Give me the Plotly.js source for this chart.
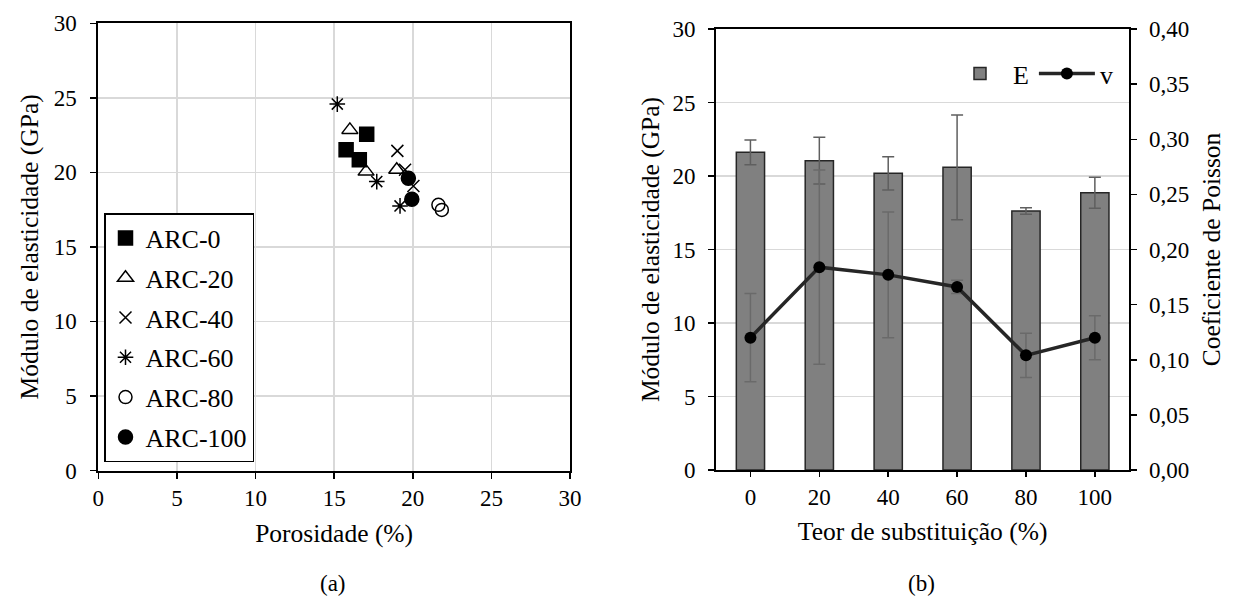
<!DOCTYPE html>
<html>
<head>
<meta charset="utf-8">
<script src="https://cdn.plot.ly/plotly-3.0.1.min.js"></script>
<style>html,body{margin:0;padding:0;background:#fff;}#chart{width:1238px;height:608px;}</style>
</head>
<body>
<div id="chart"></div>
<script>
// ---- Data (a): porosity vs modulus ----
const arc0_x = [17.07, 15.76, 16.60];
const arc0_y = [22.56, 21.51, 20.84];
const arc20_x = [16.00, 17.03, 18.98];
const arc20_y = [22.85, 20.05, 20.17];
const arc40_x = [19.02, 19.51, 20.04];
const arc40_y = [21.44, 20.17, 19.09];
const arc60_x = [15.20, 17.71, 19.19];
const arc60_y = [24.58, 19.38, 17.75];
const arc80_x = [21.63, 21.85];
const arc80_y = [17.82, 17.48];
const arc100_x = [19.72, 19.94];
const arc100_y = [19.61, 18.20];

// ---- Data (b): modulus and Poisson ----
const categories = ['0', '20', '40', '60', '80', '100'];
const E_values = [21.61, 21.04, 20.18, 20.59, 17.62, 18.86];
const E_errors = [0.84, 1.59, 1.13, 3.56, 0.22, 1.05];
const v_values = [0.120, 0.184, 0.177, 0.166, 0.104, 0.120];
const v_errors = [0.040, 0.088, 0.057, 0.006, 0.020, 0.020];

const FONT = 'Liberation Serif, Times New Roman, serif';
const TICK = 23, TITLE = 25.5, LEG = 26;
const mk = (sym, size, fill) => ({symbol: sym, size: size, color: fill, line: {color: '#000', width: 1.5}});

const traces = [
  {x: arc0_x, y: arc0_y, name: 'ARC-0', type: 'scatter', mode: 'markers', marker: mk('square', 14, '#000'), legendgroup: 'g0'},
  {x: arc20_x, y: arc20_y, name: 'ARC-20', type: 'scatter', mode: 'markers', marker: mk('triangle-up-open', 14, '#000'), legendgroup: 'g1'},
  {x: arc40_x, y: arc40_y, name: 'ARC-40', type: 'scatter', mode: 'markers', marker: mk('x-thin-open', 12, '#000'), legendgroup: 'g2'},
  {x: arc60_x, y: arc60_y, name: 'ARC-60', type: 'scatter', mode: 'markers', marker: mk('asterisk-open', 13, '#000'), legendgroup: 'g3'},
  {x: arc80_x, y: arc80_y, name: 'ARC-80', type: 'scatter', mode: 'markers', marker: mk('circle-open', 13, '#000'), legendgroup: 'g4'},
  {x: arc100_x, y: arc100_y, name: 'ARC-100', type: 'scatter', mode: 'markers', marker: mk('circle', 14, '#000'), legendgroup: 'g5'},
  {x: categories, y: E_values, name: 'E', type: 'bar', xaxis: 'x2', yaxis: 'y2', legend: 'legend2',
   marker: {color: '#808080', line: {color: '#262626', width: 1.5}},
   error_y: {type: 'data', array: E_errors, visible: true, color: '#5f5f5f', thickness: 1.5, width: 6}},
  {x: categories, y: v_values, name: 'v', type: 'scatter', mode: 'lines+markers', xaxis: 'x2', yaxis: 'y3', legend: 'legend2',
   line: {color: '#262626', width: 3.5}, marker: {color: '#000', size: 12},
   error_y: {type: 'data', array: v_errors, visible: true, color: '#6a6a6a', thickness: 1.5, width: 6}}
];

const W = 1238, H = 608;
const px = v => v / W, py = v => 1 - v / H;
const common = {
  showline: true, linecolor: '#000', linewidth: 2, ticks: 'outside', ticklen: 6, tickwidth: 1.5, tickcolor: '#000',
  zeroline: false, tickfont: {family: FONT, size: TICK, color: '#000'}
};

const layout = {
  width: W, height: H,
  margin: {l: 0, r: 0, t: 0, b: 0},
  paper_bgcolor: '#fff', plot_bgcolor: '#fff',
  font: {family: FONT, size: TICK, color: '#000'},
  separators: ',.',
  bargap: 0.59,
  xaxis: Object.assign({}, common, {
    domain: [px(98.3), px(570)], range: [0, 30], dtick: 5, tick0: 0, anchor: 'y', mirror: true,
    showgrid: true, gridcolor: '#d9d9d9', gridwidth: 1.5,
    title: {text: 'Porosidade (%)', font: {family: FONT, size: TITLE}, standoff: 14}
  }),
  yaxis: Object.assign({}, common, {
    domain: [py(470.5), py(23.3)], range: [0, 30], dtick: 5, tick0: 0, anchor: 'x', mirror: true,
    showgrid: true, gridcolor: '#d9d9d9', gridwidth: 1.5, ticklabelstandoff: 9,
    title: {text: 'Módulo de elasticidade (GPa)', font: {family: FONT, size: TITLE}, standoff: 8}
  }),
  xaxis2: Object.assign({}, common, {
    domain: [px(716), px(1129.3)], type: 'category', anchor: 'y2', mirror: true, ticklen: 5,
    showgrid: false,
    title: {text: 'Teor de substituição (%)', font: {family: FONT, size: TITLE}, standoff: 14}
  }),
  yaxis2: Object.assign({}, common, {
    domain: [py(470), py(29)], range: [0, 30], dtick: 5, tick0: 0, anchor: 'x2',
    showgrid: true, gridcolor: '#d9d9d9', gridwidth: 1.5, ticklabelstandoff: 8,
    title: {text: 'Módulo de elasticidade (GPa)', font: {family: FONT, size: TITLE}, standoff: 5}
  }),
  yaxis3: Object.assign({}, common, {
    overlaying: 'y2', side: 'right', anchor: 'x2', range: [0, 0.4], dtick: 0.05, tick0: 0, tickformat: '.2f',
    showgrid: false, ticklabelstandoff: 7,
    title: {text: 'Coeficiente de Poisson', font: {family: FONT, size: TITLE}, standoff: 14}
  }),
  legend: {
    x: px(104), y: py(213), xanchor: 'left', yanchor: 'top',
    bgcolor: '#fff', bordercolor: '#000', borderwidth: 1.5,
    font: {family: FONT, size: LEG, color: '#000'},
    traceorder: 'grouped', tracegroupgap: 3, itemwidth: 30
  },
  legend2: {
    orientation: 'h', x: px(1118), y: py(50), xanchor: 'right', yanchor: 'top',
    bgcolor: 'rgba(255,255,255,0)', borderwidth: 0, itemwidth: 56,
    font: {family: FONT, size: LEG, color: '#000'}
  },
  showlegend: true,
  annotations: [
    {text: '(a)', x: px(333), y: py(583), xref: 'paper', yref: 'paper', xanchor: 'center', yanchor: 'middle', showarrow: false, font: {family: FONT, size: TICK}},
    {text: '(b)', x: px(921), y: py(583), xref: 'paper', yref: 'paper', xanchor: 'center', yanchor: 'middle', showarrow: false, font: {family: FONT, size: TICK}}
  ]
};

Plotly.newPlot('chart', traces, layout, {staticPlot: true, displayModeBar: false});
</script>
</body>
</html>
